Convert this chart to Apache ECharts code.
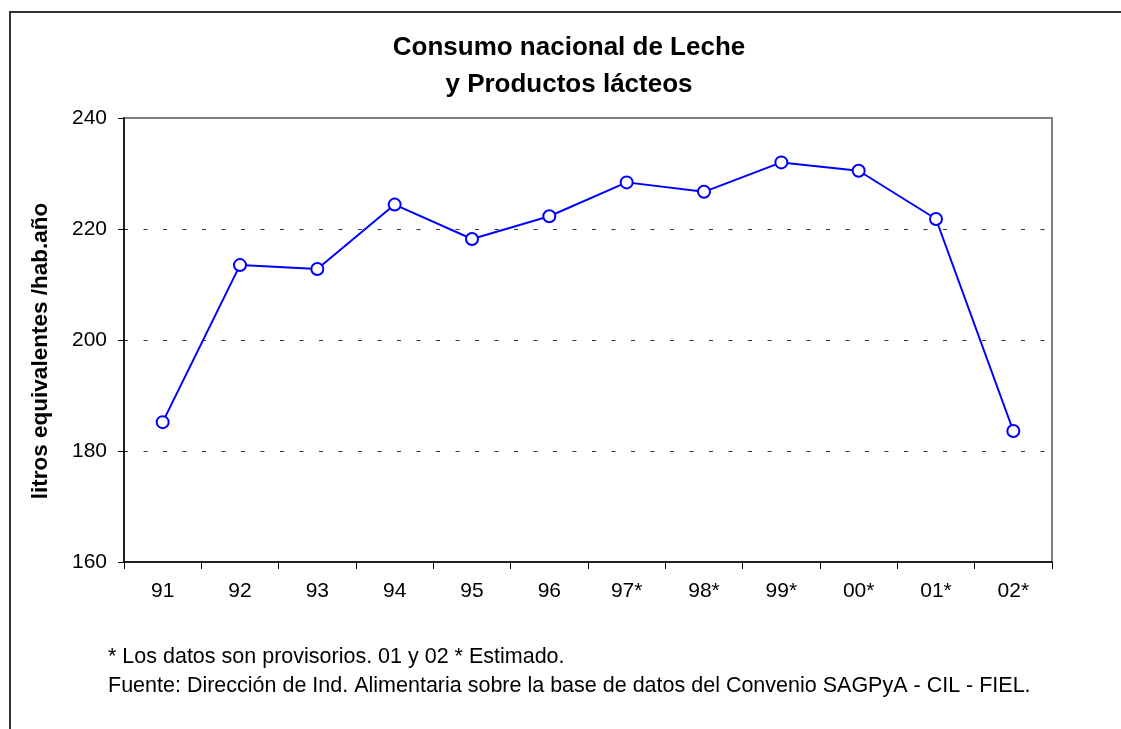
<!DOCTYPE html>
<html>
<head>
<meta charset="utf-8">
<script src="https://cdn.jsdelivr.net/npm/echarts@6/dist/echarts.min.js"></script>
<style>
  html, body { margin: 0; padding: 0; background: #fff; }
  #chart { width: 1121px; height: 729px; }
</style>
</head>
<body>
<div id="chart"></div>
<script>
// datos
var years = ['91', '92', '93', '94', '95', '96', '97*', '98*', '99*', '00*', '01*', '02*'];
var consumo = [185.2, 213.5, 212.8, 224.4, 218.2, 222.3, 228.4, 226.7, 232.0, 230.5, 221.8, 183.6];
var yTicks = { min: 160, max: 240, step: 20 };
var titleLines = ['Consumo nacional de Leche', 'y Productos lácteos'];
var yName = 'litros equivalentes /hab.año';
var notes = [
  '* Los datos son provisorios. 01 y 02 * Estimado.',
  'Fuente: Dirección de Ind. Alimentaria sobre la base de datos del Convenio SAGPyA - CIL - FIEL.'
];

var font = 'Arial, "Liberation Sans", sans-serif';
var mychart = echarts.init(document.getElementById('chart'));

var graphics = [
  // marco exterior (solo izquierda y arriba visibles)
  { type: 'polyline', z: 100, shape: { points: [[10, 729], [10, 12], [1121, 12]] },
    style: { stroke: '#333', lineWidth: 2, fill: null } }
];
titleLines.forEach(function (t, i) {
  graphics.push({ type: 'text', x: 569, y: 48 + i * 37, z: 100,
    style: { text: t, font: 'bold 26px ' + font, fill: '#000', textAlign: 'center', textVerticalAlign: 'middle' } });
});
notes.forEach(function (t, i) {
  graphics.push({ type: 'text', x: 108, y: 657 + i * 29, z: 100,
    style: { text: t, font: '21.5px ' + font, fill: '#000', textAlign: 'left', textVerticalAlign: 'middle' } });
});

var option = {
  backgroundColor: '#fff',
  animation: false,
  grid: {
    left: 124, top: 118, right: 69, bottom: 167,
    show: true, borderColor: '#808080', borderWidth: 2
  },
  graphic: graphics,
  xAxis: {
    type: 'category',
    data: years,
    boundaryGap: true,
    axisLine: { lineStyle: { color: '#000', width: 1.5 } },
    axisTick: { show: true, interval: 0, length: 7, lineStyle: { color: '#000' } },
    axisLabel: { color: '#000', fontSize: 21, fontFamily: font, margin: 19 },
    splitLine: { show: false }
  },
  yAxis: {
    type: 'value',
    min: yTicks.min, max: yTicks.max, interval: yTicks.step,
    name: yName,
    nameLocation: 'middle',
    nameGap: 72,
    nameTextStyle: { color: '#000', fontSize: 22.5, fontWeight: 'bold', fontFamily: font, padding: [0, 22, 0, 0] },
    axisLine: { show: true, lineStyle: { color: '#000', width: 1.5 } },
    axisTick: { show: true, length: 6, lineStyle: { color: '#000' } },
    axisLabel: { color: '#000', fontSize: 21, fontFamily: font, margin: 17 },
    splitLine: {
      show: true,
      lineStyle: { color: ['transparent', '#333', '#333', '#333', 'transparent'], type: [4, 15.5], width: 1 }
    }
  },
  series: [
    {
      type: 'line',
      data: consumo,
      symbol: 'circle',
      symbolSize: 12,
      showAllSymbol: true,
      lineStyle: { color: '#0000ff', width: 2 },
      itemStyle: { color: '#fff', borderColor: '#0000ff', borderWidth: 2 }
    }
  ]
};
mychart.setOption(option);
</script>
</body>
</html>
